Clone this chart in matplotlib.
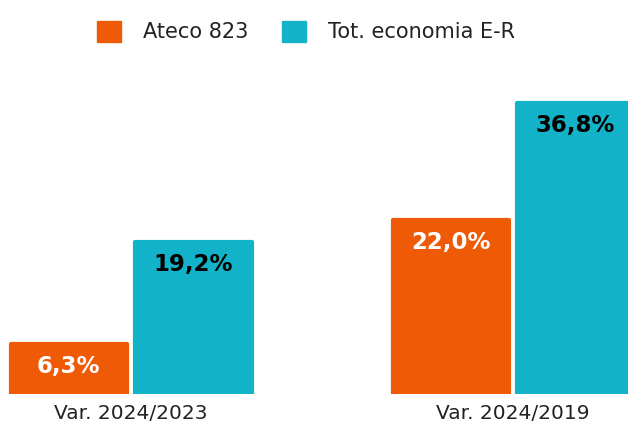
import numpy as np
import matplotlib
matplotlib.use("Agg")
import matplotlib.pyplot as plt
from matplotlib.patches import Patch

categories = ["Var. 2024/2023", "Var. 2024/2019"]
series_names = ["Ateco 823", "Tot. economia E-R"]
ateco = [6.3, 22.0]
totale = [19.2, 36.8]

ORANGE = "#EF5A06"
TEAL = "#12B3C8"
TXT = "#222222"

plt.rcParams["font.family"] = ["DejaVu Sans"]

fig = plt.figure(figsize=(6.28, 4.30), dpi=100)
ax = fig.add_axes([0, 36 / 430, 1, 334 / 430])

x = np.arange(len(categories))
w = 0.305
off = 0.163

bars_a = ax.bar(x - off, ateco, w, color=ORANGE, edgecolor=ORANGE,
                linewidth=3, joinstyle="round")
bars_t = ax.bar(x + off, totale, w, color=TEAL, edgecolor=TEAL,
                linewidth=3, joinstyle="round")

def fmt(v):
    return f"{v:.1f}%".replace(".", ",")

for b, v in zip(bars_a, ateco):
    ax.annotate(fmt(v), (b.get_x() + b.get_width() / 2, v), xytext=(0, -8),
                textcoords="offset points", ha="center", va="top",
                fontsize=16.5, fontweight="bold", color="white")
for b, v in zip(bars_t, totale):
    ax.annotate(fmt(v), (b.get_x() + b.get_width() / 2, v), xytext=(0, -8),
                textcoords="offset points", ha="center", va="top",
                fontsize=16.5, fontweight="bold", color="black")

ax.set_xlim(-0.343, 1.301)
ax.set_ylim(0, 42.2)
ax.set_xticks(x)
ax.set_xticklabels(categories, fontsize=14.5, color=TXT)
ax.tick_params(axis="x", length=0, pad=7)
ax.set_yticks([])
for s in ax.spines.values():
    s.set_visible(False)

handles = [Patch(facecolor=ORANGE, edgecolor=ORANGE),
           Patch(facecolor=TEAL, edgecolor=TEAL)]
fig.legend(handles, series_names, loc="upper center", ncol=2,
           bbox_to_anchor=(0.487, 1.0), frameon=False, fontsize=15,
           handlelength=1.15, handleheight=1.15, handletextpad=1.05,
           columnspacing=1.6, labelcolor=TXT, borderaxespad=0.6)

fig.savefig("out.png", dpi=100)
